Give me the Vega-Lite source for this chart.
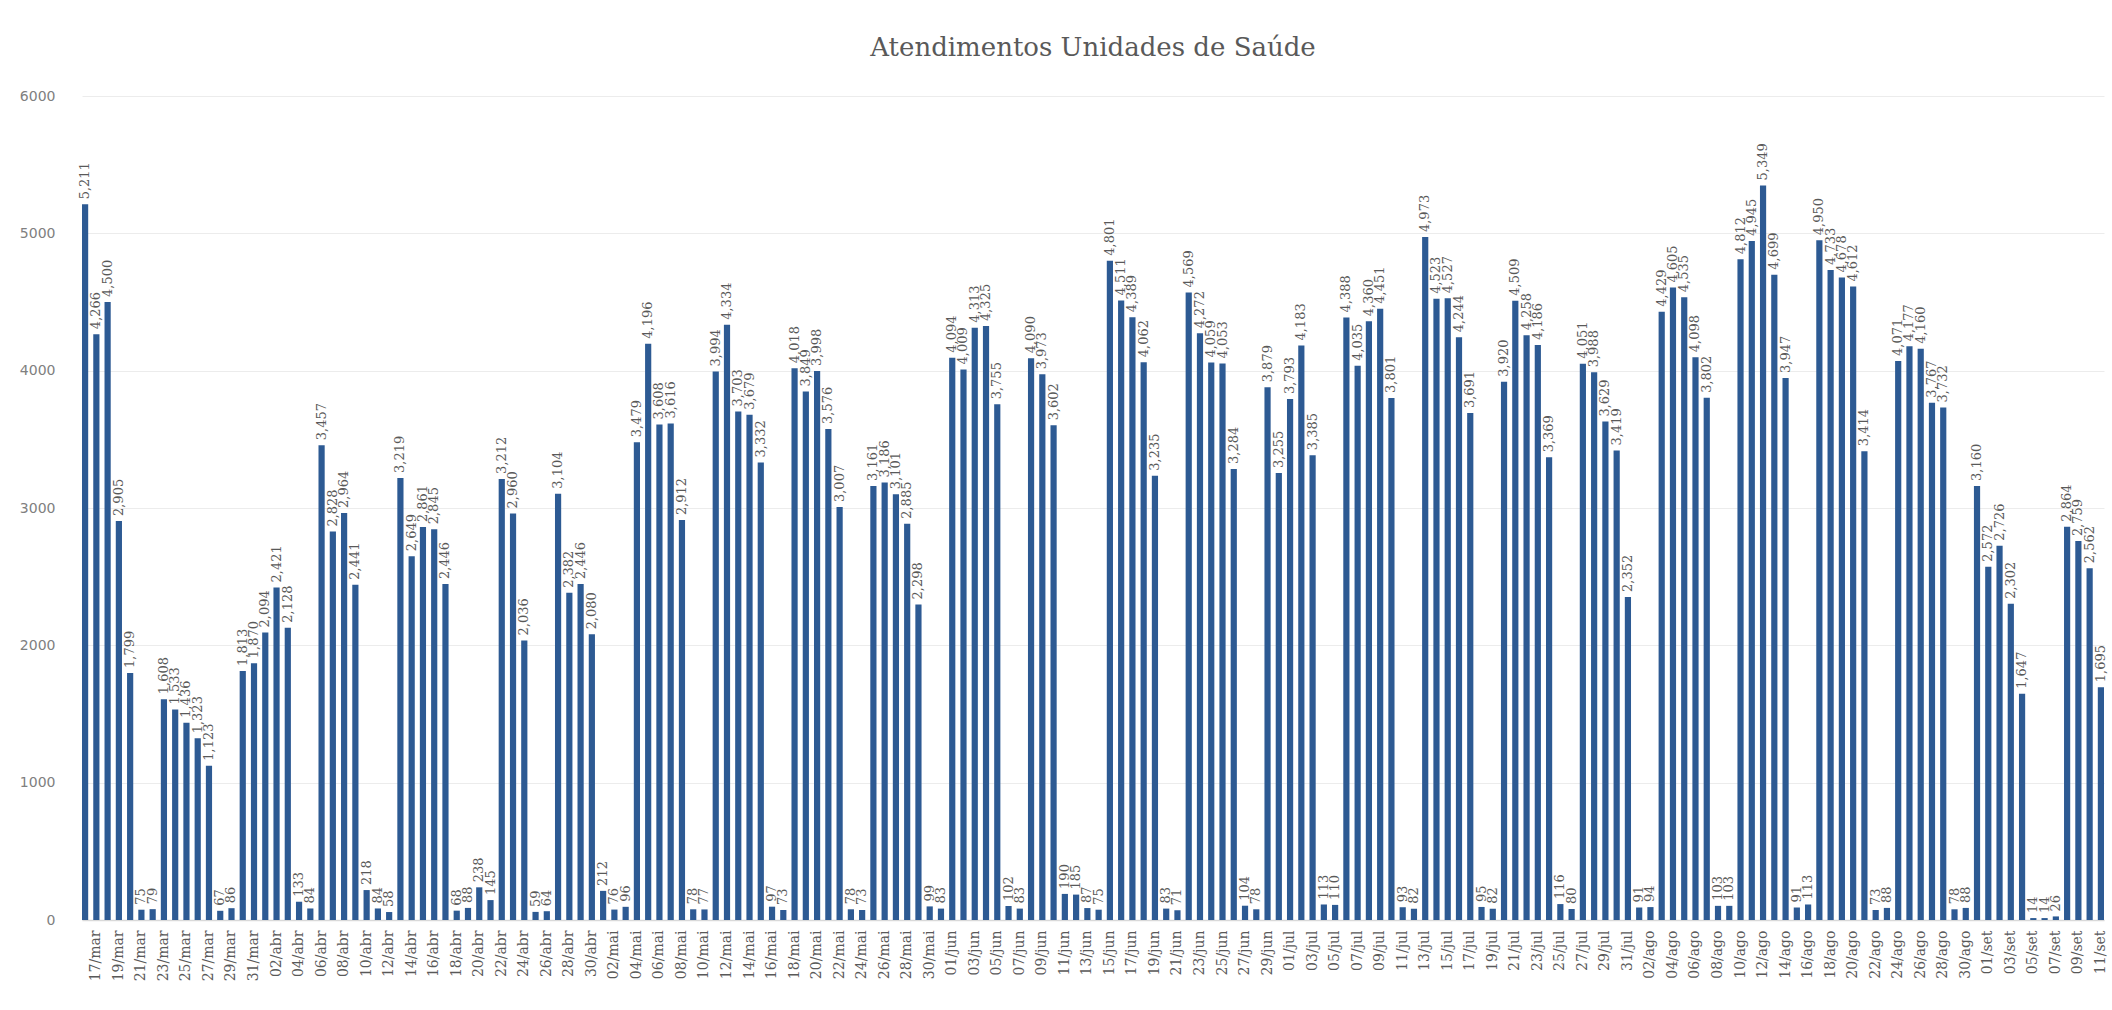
{
  "$schema": "https://vega.github.io/schema/vega-lite/v6.json",
  "autosize": "none",
  "width": 2022,
  "height": 824,
  "padding": {"left": 82, "top": 96, "right": 8, "bottom": 90},
  "background": "white",
  "title": {
    "text": "Atendimentos Unidades de Saúde",
    "font": "DejaVu Serif",
    "fontSize": 26,
    "fontWeight": "normal",
    "color": "#595959",
    "anchor": "middle",
    "offset": 28
  },
  "config": {
    "view": {"stroke": null},
    "axis": {"gridColor": "#ececec"}
  },
  "data": {
    "values": [
      {"d":"16/mar","v":5211},{"d":"17/mar","v":4266},{"d":"18/mar","v":4500},{"d":"19/mar","v":2905},{"d":"20/mar","v":1799},{"d":"21/mar","v":75},{"d":"22/mar","v":79},
      {"d":"23/mar","v":1608},{"d":"24/mar","v":1533},{"d":"25/mar","v":1436},{"d":"26/mar","v":1323},{"d":"27/mar","v":1123},{"d":"28/mar","v":67},{"d":"29/mar","v":86},
      {"d":"30/mar","v":1813},{"d":"31/mar","v":1870},{"d":"01/abr","v":2094},{"d":"02/abr","v":2421},{"d":"03/abr","v":2128},{"d":"04/abr","v":133},{"d":"05/abr","v":84},
      {"d":"06/abr","v":3457},{"d":"07/abr","v":2828},{"d":"08/abr","v":2964},{"d":"09/abr","v":2441},{"d":"10/abr","v":218},{"d":"11/abr","v":84},{"d":"12/abr","v":58},
      {"d":"13/abr","v":3219},{"d":"14/abr","v":2649},{"d":"15/abr","v":2861},{"d":"16/abr","v":2845},{"d":"17/abr","v":2446},{"d":"18/abr","v":68},{"d":"19/abr","v":88},
      {"d":"20/abr","v":238},{"d":"21/abr","v":145},{"d":"22/abr","v":3212},{"d":"23/abr","v":2960},{"d":"24/abr","v":2036},{"d":"25/abr","v":59},{"d":"26/abr","v":64},
      {"d":"27/abr","v":3104},{"d":"28/abr","v":2382},{"d":"29/abr","v":2446},{"d":"30/abr","v":2080},{"d":"01/mai","v":212},{"d":"02/mai","v":76},{"d":"03/mai","v":96},
      {"d":"04/mai","v":3479},{"d":"05/mai","v":4196},{"d":"06/mai","v":3608},{"d":"07/mai","v":3616},{"d":"08/mai","v":2912},{"d":"09/mai","v":78},{"d":"10/mai","v":77},
      {"d":"11/mai","v":3994},{"d":"12/mai","v":4334},{"d":"13/mai","v":3703},{"d":"14/mai","v":3679},{"d":"15/mai","v":3332},{"d":"16/mai","v":97},{"d":"17/mai","v":73},
      {"d":"18/mai","v":4018},{"d":"19/mai","v":3849},{"d":"20/mai","v":3998},{"d":"21/mai","v":3576},{"d":"22/mai","v":3007},{"d":"23/mai","v":78},{"d":"24/mai","v":73},
      {"d":"25/mai","v":3161},{"d":"26/mai","v":3186},{"d":"27/mai","v":3101},{"d":"28/mai","v":2885},{"d":"29/mai","v":2298},{"d":"30/mai","v":99},{"d":"31/mai","v":83},
      {"d":"01/jun","v":4094},{"d":"02/jun","v":4009},{"d":"03/jun","v":4313},{"d":"04/jun","v":4325},{"d":"05/jun","v":3755},{"d":"06/jun","v":102},{"d":"07/jun","v":83},
      {"d":"08/jun","v":4090},{"d":"09/jun","v":3973},{"d":"10/jun","v":3602},{"d":"11/jun","v":190},{"d":"12/jun","v":185},{"d":"13/jun","v":87},{"d":"14/jun","v":75},
      {"d":"15/jun","v":4801},{"d":"16/jun","v":4511},{"d":"17/jun","v":4389},{"d":"18/jun","v":4062},{"d":"19/jun","v":3235},{"d":"20/jun","v":83},{"d":"21/jun","v":71},
      {"d":"22/jun","v":4569},{"d":"23/jun","v":4272},{"d":"24/jun","v":4059},{"d":"25/jun","v":4053},{"d":"26/jun","v":3284},{"d":"27/jun","v":104},{"d":"28/jun","v":78},
      {"d":"29/jun","v":3879},{"d":"30/jun","v":3255},{"d":"01/jul","v":3793},{"d":"02/jul","v":4183},{"d":"03/jul","v":3385},{"d":"04/jul","v":113},{"d":"05/jul","v":110},
      {"d":"06/jul","v":4388},{"d":"07/jul","v":4035},{"d":"08/jul","v":4360},{"d":"09/jul","v":4451},{"d":"10/jul","v":3801},{"d":"11/jul","v":93},{"d":"12/jul","v":82},
      {"d":"13/jul","v":4973},{"d":"14/jul","v":4523},{"d":"15/jul","v":4527},{"d":"16/jul","v":4244},{"d":"17/jul","v":3691},{"d":"18/jul","v":95},{"d":"19/jul","v":82},
      {"d":"20/jul","v":3920},{"d":"21/jul","v":4509},{"d":"22/jul","v":4258},{"d":"23/jul","v":4186},{"d":"24/jul","v":3369},{"d":"25/jul","v":116},{"d":"26/jul","v":80},
      {"d":"27/jul","v":4051},{"d":"28/jul","v":3988},{"d":"29/jul","v":3629},{"d":"30/jul","v":3419},{"d":"31/jul","v":2352},{"d":"01/ago","v":91},{"d":"02/ago","v":94},
      {"d":"03/ago","v":4429},{"d":"04/ago","v":4605},{"d":"05/ago","v":4535},{"d":"06/ago","v":4098},{"d":"07/ago","v":3802},{"d":"08/ago","v":103},{"d":"09/ago","v":103},
      {"d":"10/ago","v":4812},{"d":"11/ago","v":4945},{"d":"12/ago","v":5349},{"d":"13/ago","v":4699},{"d":"14/ago","v":3947},{"d":"15/ago","v":91},{"d":"16/ago","v":113},
      {"d":"17/ago","v":4950},{"d":"18/ago","v":4733},{"d":"19/ago","v":4678},{"d":"20/ago","v":4612},{"d":"21/ago","v":3414},{"d":"22/ago","v":73},{"d":"23/ago","v":88},
      {"d":"24/ago","v":4071},{"d":"25/ago","v":4177},{"d":"26/ago","v":4160},{"d":"27/ago","v":3767},{"d":"28/ago","v":3732},{"d":"29/ago","v":78},{"d":"30/ago","v":88},
      {"d":"31/ago","v":3160},{"d":"01/set","v":2572},{"d":"02/set","v":2726},{"d":"03/set","v":2302},{"d":"04/set","v":1647},{"d":"05/set","v":14},{"d":"06/set","v":14},
      {"d":"07/set","v":26},{"d":"08/set","v":2864},{"d":"09/set","v":2759},{"d":"10/set","v":2562},{"d":"11/set","v":1695}
    ]
  },
  "encoding": {
    "x": {
      "field": "d",
      "type": "ordinal",
      "sort": null,
      "scale": {"paddingInner": 0.45, "paddingOuter": 0},
      "axis": {
        "title": null,
        "labelAngle": -90,
        "labelFont": "DejaVu Serif",
        "labelFontSize": 14,
        "labelColor": "#595959",
        "labelPadding": 10,
        "ticks": false,
        "domainColor": "#d9d9d9",
        "domainWidth": 1.5,
        "grid": false,
        "values": ["17/mar","19/mar","21/mar","23/mar","25/mar","27/mar","29/mar","31/mar",
          "02/abr","04/abr","06/abr","08/abr","10/abr","12/abr","14/abr","16/abr","18/abr","20/abr","22/abr","24/abr","26/abr","28/abr","30/abr",
          "02/mai","04/mai","06/mai","08/mai","10/mai","12/mai","14/mai","16/mai","18/mai","20/mai","22/mai","24/mai","26/mai","28/mai","30/mai",
          "01/jun","03/jun","05/jun","07/jun","09/jun","11/jun","13/jun","15/jun","17/jun","19/jun","21/jun","23/jun","25/jun","27/jun","29/jun",
          "01/jul","03/jul","05/jul","07/jul","09/jul","11/jul","13/jul","15/jul","17/jul","19/jul","21/jul","23/jul","25/jul","27/jul","29/jul","31/jul",
          "02/ago","04/ago","06/ago","08/ago","10/ago","12/ago","14/ago","16/ago","18/ago","20/ago","22/ago","24/ago","26/ago","28/ago","30/ago",
          "01/set","03/set","05/set","07/set","09/set","11/set"]
      }
    },
    "y": {
      "field": "v",
      "type": "quantitative",
      "scale": {"domain": [0, 6000], "nice": false},
      "axis": {
        "title": null,
        "values": [0, 1000, 2000, 3000, 4000, 5000, 6000],
        "format": "d",
        "labelFont": "DejaVu Sans",
        "labelFontSize": 14,
        "labelColor": "#808080",
        "labelPadding": 27,
        "ticks": false,
        "domain": false,
        "grid": true,
        "gridColor": "#ececec"
      }
    }
  },
  "layer": [
    {"mark": {"type": "bar", "color": "#2d5a93"}},
    {
      "mark": {
        "type": "text",
        "angle": 270,
        "align": "left",
        "baseline": "middle",
        "dx": 5,
        "font": "DejaVu Serif",
        "fontSize": 13,
        "color": "#595959"
      },
      "encoding": {"text": {"field": "v", "type": "quantitative", "format": ",d"}}
    }
  ]
}
